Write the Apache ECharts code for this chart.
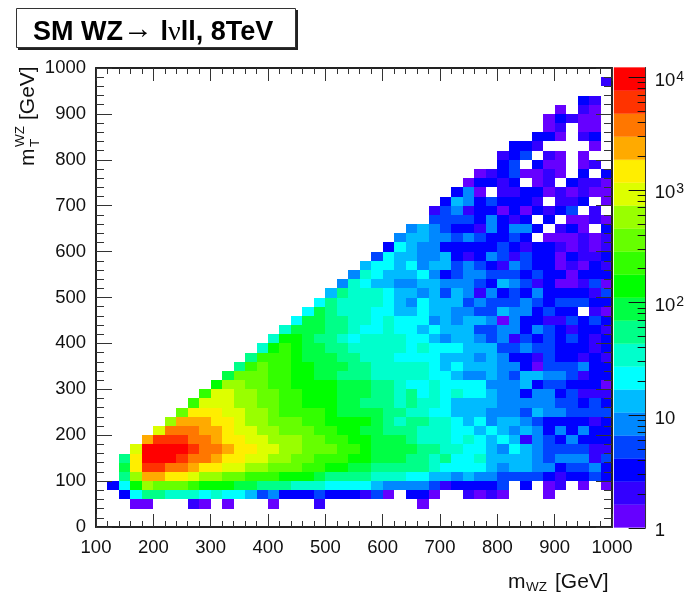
<!DOCTYPE html>
<html>
<head>
<meta charset="utf-8">
<style>html,body{margin:0;padding:0;background:#fff}#c{width:687px;height:595px}</style>
<script src="https://cdn.jsdelivr.net/npm/echarts@6/dist/echarts.min.js"></script>
</head>
<body>
<div id="c"></div>
<script>
// Bin grid: 20 GeV bins on both axes
const xMin = 100, xMax = 1000, yMin = 0, yMax = 1000, binSize = 20;
const xTicks = [100,200,300,400,500,600,700,800,900,1000];

// Colour scale: band edges (events) and band colours, low to high
const bandEdges = [1,1.6,2.56,4.1,6.55,10.5,16.8,26.9,43,68.9,110,176,282,452,724,1158,1854,2970,4757,7620,12200];
const bandCounts = [1.3,2,3.2,5.2,8.2,13,21,34,54,87,139,223,357,572,916,1465,2346,3760,6020,9640];
const bandColors = ['#6600ff','#3300ff','#0000ff','#0044ff','#0088ff','#00bbff','#00ffff','#00ffcc','#00ff88','#00ff44','#00ff00','#33ff00','#66ff00','#99ff00','#ddff00','#ffee00','#ffaa00','#ff7700','#ff3300','#ff0000'];
const cbarMajor = [1,10,100,1000,10000];
const cbarMinor = [2,3,4,5,6,7,8,9,20,30,40,50,60,70,80,90,200,300,400,500,600,700,800,900,2000,3000,4000,5000,6000,7000,8000,9000];

// First x bin of each y row (row n covers y = 20n .. 20n+20)
const rowFirstBin = [0,0,3,2,1,2,2,2,3,4,5,6,7,8,9,10,11,12,13,14,15,16,17,18,19,20,21,22,23,24,25,26,27,29,29,30,31,32,33,35,35,36,38,39,39,40,42,0,44,0];

// Colour band number read for each cell (0 = empty)
const row00 = [];
const row01 = [];
const row02 = [1,1,0,0,0,2,1,0,1,0,0,0,1,0,0,0,2,0,0,0,0,0,0,0,0,1];
const row03 = [3,7,9,9,8,8,8,7,8,7,7,6,4,5,3,3,3,4,3,3,3,2,4,1,0,3,3,1,0,0,2,1,2,1,0,0,0,1];
const row04 = [3,7,11,14,13,13,13,12,11,11,11,10,10,9,9,9,8,8,8,7,7,7,7,6,5,5,5,5,4,2,3,3,3,3,4,0,3,0,1,2,0,1,0,1];
const row05 = [9,14,17,17,16,16,15,14,14,13,13,12,12,12,11,11,11,10,9,9,9,9,8,8,8,7,7,6,6,5,6,5,5,4,4,4,4,3,2,3,3,4,3];
const row06 = [10,16,19,19,18,18,17,16,16,15,15,14,14,13,13,13,12,12,11,11,10,10,9,9,9,9,9,8,7,7,7,7,6,5,6,6,5,5,3,4,4,5,3];
const row07 = [9,16,20,20,20,19,18,18,17,16,16,15,15,14,14,13,13,12,12,12,11,11,10,10,10,9,9,8,9,7,7,8,6,6,6,6,5,4,5,5,5,2,4];
const row08 = [15,20,20,20,20,19,18,18,17,16,16,15,15,14,14,13,13,13,12,12,11,10,10,10,10,9,9,8,8,7,7,6,5,7,6,5,4,4,4,4,2,2];
const row09 = [17,19,19,19,18,18,17,16,16,15,15,14,14,14,13,13,12,12,11,11,10,10,10,9,8,8,8,7,8,7,6,7,6,2,5,4,3,5,3,3,3];
const row10 = [15,18,18,18,17,17,16,15,15,14,14,13,13,13,12,12,11,11,10,10,9,9,9,8,8,8,7,7,6,7,6,5,6,5,3,5,3,5,3,3];
const row11 = [14,17,17,17,16,16,15,14,14,13,13,13,12,12,11,11,11,11,10,9,8,9,9,8,8,7,6,7,5,6,6,5,4,3,3,3,3,2,3];
const row12 = [13,16,16,16,15,15,14,14,13,12,12,12,12,11,10,10,10,10,9,9,8,8,7,7,6,6,6,5,5,5,4,6,5,5,4,4,4,4];
const row13 = [12,15,15,15,14,14,13,13,12,12,11,11,11,10,10,9,9,9,8,9,8,8,7,6,6,6,6,5,5,5,5,5,4,4,3,4,3];
const row14 = [12,15,15,14,14,13,13,12,12,11,11,11,10,10,10,9,9,8,9,7,8,7,8,7,7,6,5,5,3,5,5,3,4,2,2,2];
const row15 = [11,14,14,13,13,12,12,11,11,11,11,10,10,10,9,9,8,7,7,8,7,7,7,7,5,5,5,6,3,4,4,3,3,3,1];
const row16 = [10,13,13,13,12,12,11,11,10,10,9,9,9,8,8,8,8,8,7,7,6,5,5,6,5,4,6,6,5,5,4,2,3,3];
const row17 = [9,12,13,12,12,11,11,10,10,10,9,9,8,8,8,8,8,7,6,7,6,6,6,5,5,3,1,4,4,4,5,3,3];
const row18 = [9,12,12,12,11,10,10,10,9,9,8,8,8,7,7,7,7,6,6,6,5,6,5,3,3,2,4,3,3,2,3,2];
const row19 = [8,11,12,11,10,10,9,9,8,8,8,8,8,7,8,7,7,7,6,6,6,4,4,5,4,4,3,3,3,2,3];
const row20 = [8,11,11,10,9,9,8,7,8,8,8,8,7,7,6,5,6,6,5,4,5,2,4,3,4,3,4,3,2,3];
const row21 = [8,10,10,10,9,9,8,7,7,8,7,7,6,7,6,6,6,4,4,5,5,3,5,4,3,2,3,3,2];
const row22 = [7,10,10,9,9,8,8,7,8,7,7,7,5,6,5,6,6,5,1,5,3,3,2,2,4,3,4,3];
const row23 = [7,10,9,8,8,8,7,7,6,6,7,6,6,5,5,4,4,6,5,5,3,4,3,3,0,2,1];
const row24 = [7,9,8,8,8,8,7,6,5,7,6,6,6,4,5,4,4,4,5,4,3,4,4,4,3,3];
const row25 = [6,9,8,8,8,7,6,6,5,6,4,6,5,2,5,3,4,3,5,3,3,3,3,2,4];
const row26 = [5,8,7,6,6,5,5,6,6,5,5,5,4,3,6,5,4,2,3,1,1,2,4,1];
const row27 = [5,8,7,6,6,6,7,5,3,4,5,5,4,4,4,3,4,3,3,1,3,3,3];
const row28 = [6,7,7,6,7,5,6,6,4,5,4,3,2,5,4,3,3,1,2,1,3,2];
const row29 = [4,7,6,6,5,5,6,3,2,3,5,4,2,4,3,3,1,3,2,2,3];
const row30 = [3,7,6,5,5,3,3,3,3,3,4,3,2,3,3,2,1,2,1,2];
const row31 = [5,6,6,5,5,4,5,4,3,3,4,3,0,1,1,1,2,1,2];
const row32 = [5,6,5,4,3,3,2,5,3,5,5,3,0,2,3,1,0,3];
const row33 = [4,4,4,4,3,5,3,2,3,0,3,0,1,1,2,1];
const row34 = [2,4,5,2,3,3,1,3,1,3,2,3,4,0,2,0];
const row35 = [3,6,5,3,4,3,3,3,2,0,2,2,3,0,1];
const row36 = [3,5,1,0,2,2,3,3,1,2,1,2,1,1];
const row37 = [1,3,3,2,3,0,1,2,0,3,2,2,1];
const row38 = [1,2,3,4,1,1,2,1,0,3,0,3];
const row39 = [3,4,0,3,1,1,0,1,2,0];
const row40 = [2,3,4,0,2,1,0,1];
const row41 = [3,3,2,0,0,0,0,1];
const row42 = [3,3,1,0,2,3];
const row43 = [1,2,0,1,1];
const row44 = [1,3,2,1,1];
const row45 = [1,0,2,1];
const row46 = [3,2];
const row47 = [];
const row48 = [2];
const row49 = [];

const rows = [row00,row01,row02,row03,row04,row05,row06,row07,row08,row09,row10,row11,row12,row13,row14,row15,row16,row17,row18,row19,row20,row21,row22,row23,row24,row25,row26,row27,row28,row29,row30,row31,row32,row33,row34,row35,row36,row37,row38,row39,row40,row41,row42,row43,row44,row45,row46,row47,row48,row49];

const cells = [];
rows.forEach(function (row, j) {
  row.forEach(function (band, k) {
    if (band > 0) cells.push([xMin + (rowFirstBin[j] + k) * binSize, yMin + j * binSize, bandCounts[band - 1]]);
  });
});
function colorOf(count) {
  for (let b = 0; b < bandColors.length; b++) if (count < bandEdges[b + 1]) return bandColors[b];
  return bandColors[bandColors.length - 1];
}
const cbarData = bandColors.map(function (c, b) { return [bandEdges[b], bandEdges[b + 1], b]; });
const cbarTicks = cbarMajor.map(function (v) { return [1, v, 17]; }).concat(cbarMinor.map(function (v) { return [1, v, 8]; }));

const FONT = '"Liberation Sans", Arial, sans-serif';
const INK = '#222';
const label = { color: '#111', fontSize: 18.5, fontFamily: FONT };

function frameAxisX(pos, show) {
  return { type: 'value', gridIndex: 0, position: pos, min: xMin, max: xMax, interval: 100, z: 6,
    axisLine: { show: true, onZero: false, lineStyle: { color: INK, width: 2 } },
    axisTick: { show: true, inside: true, length: 13, lineStyle: { color: '#333', width: 1 } },
    minorTick: { show: true, splitNumber: 5, length: 6, lineStyle: { color: '#333', width: 1 } },
    splitLine: { show: false }, minorSplitLine: { show: false },
    axisLabel: show ? Object.assign({ margin: 11, showMinLabel: true, showMaxLabel: true, formatter: function (v) { return String(v); } }, label) : { show: false } };
}
function frameAxisY(pos, show) {
  return { type: 'value', gridIndex: 0, position: pos, min: yMin, max: yMax, interval: 100, z: 6,
    axisLine: { show: true, onZero: false, lineStyle: { color: INK, width: 2 } },
    axisTick: { show: true, inside: true, length: 16, lineStyle: { color: '#333', width: 1 } },
    minorTick: { show: true, splitNumber: 5, length: 8, lineStyle: { color: '#333', width: 1 } },
    splitLine: { show: false }, minorSplitLine: { show: false },
    axisLabel: show ? Object.assign({ margin: 10, showMinLabel: true, showMaxLabel: true, formatter: function (v) { return String(v); } }, label) : { show: false } };
}

const option = {
  animation: false,
  backgroundColor: '#fff',
  textStyle: { fontFamily: FONT },
  title: {
    left: 33, top: 15, padding: 0,
    text: '{b|SM WZ}{a|\u2192}{b| l}{n|\u03BD}{b|ll, 8TeV}',
    textStyle: { rich: {
      b: { fontFamily: FONT, fontSize: 27, fontWeight: 'bold', color: '#000' },
      a: { fontFamily: FONT, fontSize: 30, fontWeight: 'normal', color: '#000', padding: [0, 0, 5, 0] },
      n: { fontFamily: '"Liberation Serif", serif', fontSize: 28, fontWeight: 'normal', color: '#000' }
    } }
  },
  grid: [
    { left: 96, top: 68, width: 516, height: 459, containLabel: false },
    { left: 614, top: 67.5, width: 32.5, height: 460, containLabel: false }
  ],
  xAxis: [
    frameAxisX('bottom', true),
    frameAxisX('top', false),
    { type: 'value', gridIndex: 1, min: 0, max: 1, show: false }
  ],
  yAxis: [
    frameAxisY('left', true),
    frameAxisY('right', false),
    { type: 'log', gridIndex: 1, position: 'right', min: 1, max: bandEdges[bandEdges.length - 1], z: 6,
      axisLine: { show: true, onZero: false, lineStyle: { color: '#333', width: 1 } },
      axisTick: { show: false },
      minorTick: { show: false }, splitLine: { show: false },
      axisLabel: Object.assign({}, label, { show: true, margin: 9, customValues: cbarMajor, padding: [7, 0, 0, 0],
        formatter: function (v) {
          const e = Math.round(Math.log10(v));
          if (e === 0) return '1';
          if (e === 1) return '10';
          return '10{s|' + e + '}';
        },
        rich: { s: { fontFamily: FONT, fontSize: 14, color: '#111', verticalAlign: 'top', padding: [0, 0, 8, 1] } }
      }) }
  ],
  series: [
    { type: 'custom', name: 'events', xAxisIndex: 0, yAxisIndex: 0, z: 2, clip: true, silent: true,
      encode: { x: 0, y: 1 }, data: cells,
      renderItem: function (params, api) {
        const x = api.value(0), y = api.value(1);
        const a = api.coord([x, y]), b = api.coord([x + binSize, y + binSize]);
        const l = Math.round(a[0]), r = Math.round(b[0]), t = Math.round(b[1]), bt = Math.round(a[1]);
        return { type: 'rect', shape: { x: l, y: t, width: r - l, height: bt - t }, style: { fill: colorOf(api.value(2)) } };
      } },
    { type: 'custom', name: 'scale', xAxisIndex: 2, yAxisIndex: 2, z: 2, silent: true,
      encode: { y: [0, 1] }, data: cbarData,
      renderItem: function (params, api) {
        const a = api.coord([0, api.value(0)]), b = api.coord([1, api.value(1)]);
        return { type: 'rect', shape: { x: a[0], y: b[1], width: b[0] - a[0], height: a[1] - b[1] }, style: { fill: bandColors[api.value(2)], stroke: bandColors[api.value(2)], lineWidth: 0.3 } };
      } },
    { type: 'custom', name: 'scale ticks', xAxisIndex: 2, yAxisIndex: 2, z: 7, silent: true,
      encode: { x: 0, y: 1 }, data: cbarTicks,
      renderItem: function (params, api) {
        const p = api.coord([api.value(0), api.value(1)]);
        const y = Math.round(p[1]) + 0.5;
        return { type: 'line', z2: 50, shape: { x1: p[0] - api.value(2), y1: y, x2: p[0], y2: y }, style: { stroke: '#111', lineWidth: 1, fill: null } };
      } }
  ],
  graphic: [
    { type: 'rect', silent: true, z: 0, shape: { x: 18, y: 10, width: 280, height: 40 }, style: { fill: '#222' } },
    { type: 'rect', silent: true, z: 1, shape: { x: 16.5, y: 8.5, width: 279, height: 39 }, style: { fill: '#fff', stroke: '#333', lineWidth: 1 } },
    { type: 'text', silent: true, x: 508, y: 582, style: { text: 'm', font: '21px ' + FONT, fill: '#111', verticalAlign: 'middle' } },
    { type: 'text', silent: true, x: 526, y: 587, style: { text: 'WZ', font: '13.5px ' + FONT, fill: '#111', verticalAlign: 'middle' } },
    { type: 'text', silent: true, x: 555, y: 582, style: { text: '[GeV]', font: '21px ' + FONT, fill: '#111', verticalAlign: 'middle' } },
    { type: 'text', silent: true, x: 28, y: 166, rotation: Math.PI / 2, style: { text: 'm', font: '21px ' + FONT, fill: '#111', verticalAlign: 'middle' } },
    { type: 'text', silent: true, x: 20, y: 147, rotation: Math.PI / 2, style: { text: 'WZ', font: '13.5px ' + FONT, fill: '#111', verticalAlign: 'middle' } },
    { type: 'text', silent: true, x: 35, y: 147, rotation: Math.PI / 2, style: { text: 'T', font: '13.5px ' + FONT, fill: '#111', verticalAlign: 'middle' } },
    { type: 'text', silent: true, x: 28, y: 120, rotation: Math.PI / 2, style: { text: '[GeV]', font: '21px ' + FONT, fill: '#111', verticalAlign: 'middle' } }
  ]
};
const chart = echarts.init(document.getElementById('c'), null, { renderer: 'canvas' });
chart.setOption(option);
</script>
</body>
</html>
